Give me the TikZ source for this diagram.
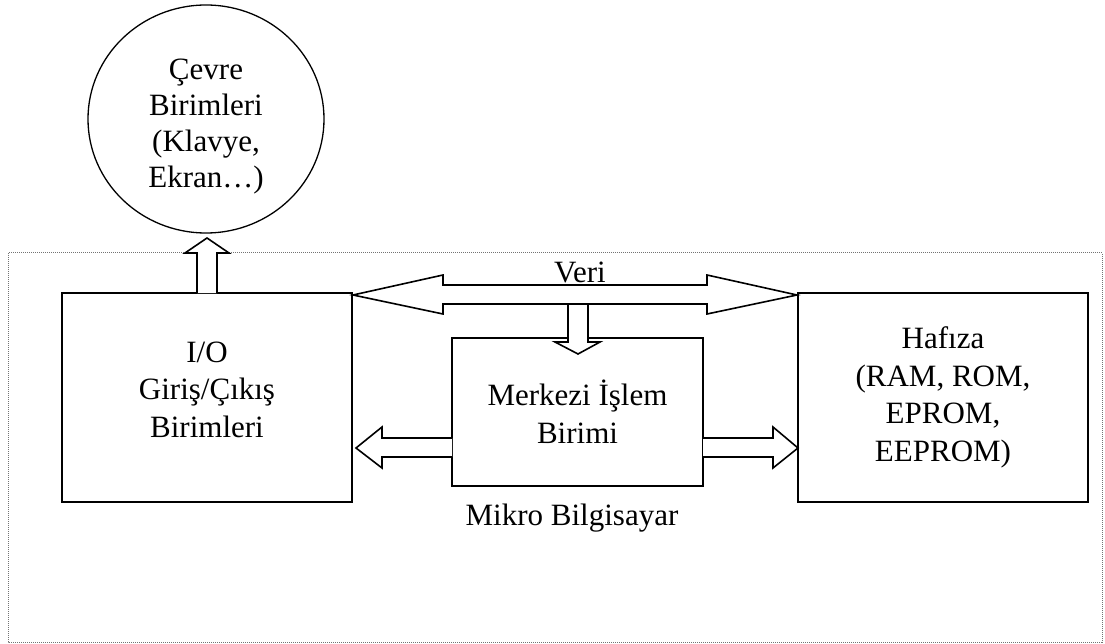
\documentclass[tikz,border=0pt]{standalone}
\usepackage{fontspec}
\setmainfont{Liberation Serif}
\usetikzlibrary{calc,shapes.geometric}
\newcommand\diafont{\fontsize{31}{37.5}\selectfont}
\begin{document}
\begin{tikzpicture}[x=1pt,y=-1pt,
  every node/.style={font=\diafont},
  boxnode/.style={draw,line width=1.8pt,inner sep=0pt,outer sep=0pt,align=center},
  barrow/.style={draw,fill=white,line width=1.6pt,line join=miter},
  frame/.style={draw=black!55,line width=1pt,dash pattern=on 1pt off 1pt},
  plain/.style={inner sep=0pt,outer sep=0pt}]
\useasboundingbox (0,0) rectangle (1105,644);
% outer dotted frame
\draw[frame] (8,253) rectangle (1102,642);
% boxes
\node[boxnode,minimum width=290pt,minimum height=209pt] (io) at (207,397.5)
  {I/O\\Giriş/Çıkış\\Birimleri\rule[-16pt]{0pt}{16pt}};
\node[boxnode,minimum width=251pt,minimum height=148pt] (cpu) at (577.5,412)
  {Merkezi İşlem\\Birimi};
\node[boxnode,minimum width=290pt,minimum height=209pt] (mem) at (943,397.5)
  {Hafıza\\(RAM, ROM,\\EPROM,\\EEPROM)};
\node[draw,ellipse,line width=1.3pt,inner sep=0pt,outer sep=0pt,align=center,
  minimum width=236pt,minimum height=228pt,
  font=\fontsize{31}{36}\selectfont] (peri) at (206,119)
  {\rule{0pt}{35pt}Çevre\\Birimleri\\(Klavye,\\Ekran…)};
% labels
\node[plain,anchor=base] (veri) at (580,283) {Veri};
\node[plain,anchor=base] (mikro) at (572,525) {Mikro Bilgisayar};
% up arrow: I/O -> peripherals
\draw[barrow] ($(io.north)+(-10,0)$) -- ($(io.north)+(-10,-40)$) -- ($(io.north)+(-22,-40)$)
  -- ($(io.north)+(0,-55)$) -- ($(io.north)+(22,-40)$) -- ($(io.north)+(10,-40)$)
  -- ($(io.north)+(10,0)$);
% Veri double arrow
\coordinate (vl) at ($(io.north east)+(1,2)$);
\coordinate (vr) at ($(mem.north west)+(-1,2)$);
\draw[barrow] (vl) -- ($(vl)+(90,-20)$) -- ($(vl)+(90,-10)$) -- ($(vr)+(-90,-10)$)
  -- ($(vr)+(-90,-20)$) -- (vr) -- ($(vr)+(-90,19)$) -- ($(vr)+(-90,9)$)
  -- ($(vl)+(90,9)$) -- ($(vl)+(90,19)$) -- cycle;
% down arrow into CPU
\draw[barrow] ($(cpu.north)+(-9.5,-33)$) -- ($(cpu.north)+(-9.5,4)$) -- ($(cpu.north)+(-22.5,4)$)
  -- ($(cpu.north)+(0.5,16)$) -- ($(cpu.north)+(22.5,4)$) -- ($(cpu.north)+(10.5,4)$)
  -- ($(cpu.north)+(10.5,-33)$);
% left arrow CPU -> I/O
\draw[barrow] ($(cpu.west)+(0,26)$) -- ($(cpu.west)+(-70,26)$) -- ($(cpu.west)+(-70,15)$)
  -- ($(cpu.west)+(-96,36)$) -- ($(cpu.west)+(-70,56)$) -- ($(cpu.west)+(-70,45)$)
  -- ($(cpu.west)+(0,45)$);
% right arrow CPU -> memory
\draw[barrow] ($(cpu.east)+(0,26)$) -- ($(cpu.east)+(70,26)$) -- ($(cpu.east)+(70,15)$)
  -- ($(cpu.east)+(95,36)$) -- ($(cpu.east)+(70,56)$) -- ($(cpu.east)+(70,45)$)
  -- ($(cpu.east)+(0,45)$);
\end{tikzpicture}
\end{document}
